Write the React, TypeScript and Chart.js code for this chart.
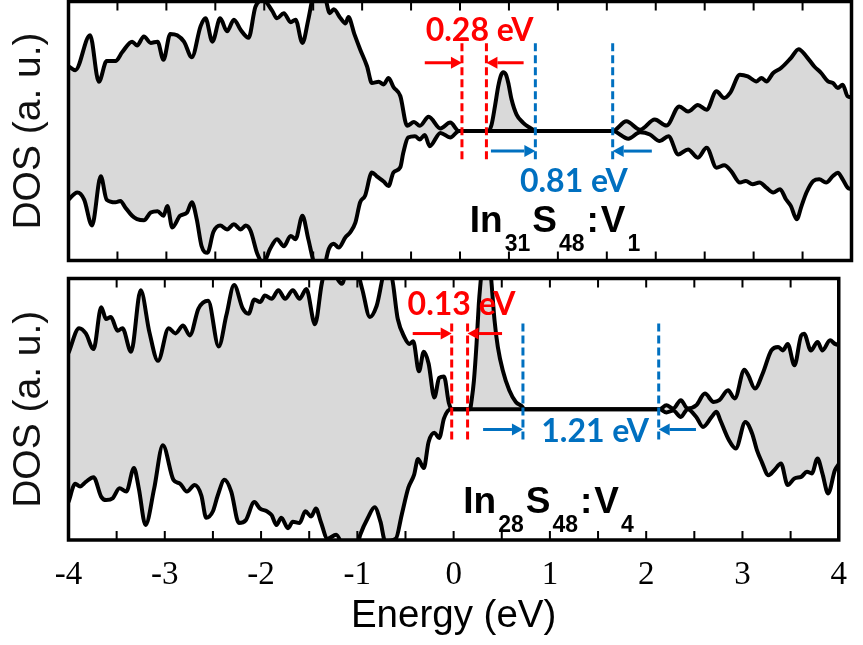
import React, { useEffect, useRef } from 'react';
import { Chart, registerables } from 'chart.js';

Chart.register(...registerables);

// ---------- axis ticks ----------
const xMajorTicks = [-4, -3, -2, -1, 0, 1, 2, 3, 4];
const xMajorTickLabels = ['-4', '-3', '-2', '-1', '0', '1', '2', '3', '4'];
const xMinorTicks = [-3.5, -3, -2.5, -2, -1.5, -1, -0.5, 0, 0.5, 1, 1.5, 2, 2.5, 3, 3.5];

// ---------- In31S48:V1 (top panel) ----------
const topUpE = [-4.0, -3.93, -3.78, -3.69, -3.61, -3.52, -3.45, -3.35, -3.3, -3.23, -3.16, -3.09, -3.03, -2.96, -2.89, -2.82, -2.74, -2.65, -2.6, -2.53, -2.45, -2.38, -2.31, -2.24, -2.16, -2.09, -2.01, -1.92, -1.87, -1.8, -1.73, -1.68, -1.61, -1.55, -1.5, -1.45, -1.38, -1.33, -1.29, -1.22, -1.17, -1.14, -1.08, -1.02, -0.95, -0.9, -0.83, -0.78, -0.73, -0.68, -0.61, -0.54, -0.47, -0.41, -0.32, -0.2, -0.1, -0.01, 0.15, 0.29, 0.323, 0.357, 0.391, 0.418, 0.442, 0.469, 0.493, 0.527, 0.578, 0.646, 0.714, 0.765, 0.78, 1.2, 1.56, 1.7, 1.84, 1.99, 2.11, 2.24, 2.33, 2.43, 2.52, 2.62, 2.7, 2.76, 2.86, 2.94, 3.03, 3.08, 3.13, 3.2, 3.28, 3.38, 3.46, 3.54, 3.62, 3.69, 3.76, 3.81, 3.86, 3.91, 3.96, 4.0];
const topUpV = [5.0, 4.7, 7.4, 3.8, 5.4, 5.4, 6.1, 6.9, 6.6, 7.3, 6.8, 6.9, 5.5, 7.5, 7.4, 6.9, 5.7, 8.1, 8.7, 6.9, 8.7, 7.7, 8.6, 7.8, 7.2, 9.6, 10.1, 9.3, 8.7, 9.1, 8.4, 8.6, 6.8, 8.6, 10.5, 11.5, 10.4, 9.1, 9.4, 8.7, 8.3, 8.8, 7.5, 6.3, 5.0, 3.7, 3.8, 3.6, 4.1, 3.4, 2.7, 0.4, 0.7, 0.4, 1.1, 0.2, 0.65, 0, 0, 0, 0.5, 1.9, 3.46, 4.29, 4.54, 4.36, 3.72, 2.43, 1.27, 0.63, 0.25, 0.04, 0, 0, 0, 0.75, 0.1, 0.88, 0.42, 1.9, 1.5, 2.0, 1.65, 3.06, 2.55, 2.94, 4.35, 4.22, 3.83, 4.09, 3.83, 4.48, 4.86, 5.63, 6.32, 5.75, 4.98, 4.48, 3.83, 3.71, 3.32, 3.58, 2.68, 2.6];
const topDnE = [-4.0, -3.91, -3.84, -3.76, -3.67, -3.61, -3.52, -3.47, -3.42, -3.35, -3.3, -3.23, -3.16, -3.09, -3.03, -2.99, -2.94, -2.86, -2.79, -2.74, -2.69, -2.64, -2.58, -2.52, -2.45, -2.38, -2.31, -2.24, -2.19, -2.14, -2.07, -2.01, -1.94, -1.87, -1.8, -1.73, -1.68, -1.61, -1.55, -1.48, -1.41, -1.34, -1.29, -1.24, -1.17, -1.12, -1.07, -1.02, -0.97, -0.9, -0.85, -0.78, -0.73, -0.68, -0.61, -0.58, -0.53, -0.46, -0.41, -0.36, -0.31, -0.2, -0.1, -0.01, 0.4, 0.8, 1.2, 1.56, 1.72, 1.84, 1.94, 2.04, 2.13, 2.23, 2.33, 2.43, 2.52, 2.62, 2.7, 2.77, 2.86, 2.92, 2.99, 3.06, 3.13, 3.2, 3.27, 3.33, 3.38, 3.44, 3.49, 3.54, 3.61, 3.67, 3.74, 3.81, 3.86, 3.91, 3.96, 4.0];
const topDnV = [-5.3, -4.75, -5.3, -7.3, -3.5, -5.3, -5.5, -5.4, -5.9, -6.55, -6.8, -6.9, -6.3, -6.2, -6.55, -5.8, -7.45, -6.55, -6.3, -5.5, -6.8, -8.9, -9.4, -7.8, -7.3, -7.6, -7.2, -7.6, -7.3, -7.7, -9.5, -10.2, -9.1, -8.35, -8.9, -8.1, -8.35, -6.55, -8.35, -10.5, -11.0, -9.1, -8.7, -9.0, -8.2, -7.8, -7.1, -5.5, -5.0, -3.2, -3.5, -3.9, -4.25, -3.2, -2.8, -1.7, -0.5, -0.4, -0.65, -0.3, -1.17, -0.15, -0.5, 0, 0, 0, 0, 0, -0.6, -0.1, -0.27, -0.78, -0.4, -1.81, -1.42, -2.06, -1.29, -2.83, -2.65, -3.09, -3.98, -3.86, -4.12, -3.98, -4.37, -4.75, -4.5, -5.27, -5.78, -6.81, -5.78, -4.75, -3.86, -3.73, -3.98, -3.48, -3.22, -3.73, -4.37, -4.5];

// ---------- In28S48:V4 (bottom panel) ----------
const botUpE = [-4.0, -3.89, -3.82, -3.74, -3.66, -3.61, -3.56, -3.49, -3.44, -3.35, -3.25, -3.16, -3.07, -2.96, -2.89, -2.81, -2.74, -2.65, -2.55, -2.44, -2.36, -2.28, -2.19, -2.13, -2.07, -2.01, -1.96, -1.89, -1.82, -1.75, -1.67, -1.6, -1.53, -1.44, -1.37, -1.32, -1.25, -1.16, -1.1, -1.02, -0.95, -0.87, -0.8, -0.71, -0.65, -0.58, -0.51, -0.46, -0.42, -0.36, -0.31, -0.26, -0.2, -0.15, -0.1, -0.05, -0.02, 0.1, 0.17, 0.187, 0.211, 0.238, 0.262, 0.282, 0.31, 0.335, 0.36, 0.391, 0.425, 0.459, 0.51, 0.578, 0.646, 0.714, 0.73, 1.2, 1.7, 2.14, 2.21, 2.28, 2.36, 2.43, 2.52, 2.61, 2.7, 2.76, 2.85, 2.92, 3.02, 3.06, 3.13, 3.21, 3.3, 3.37, 3.42, 3.47, 3.54, 3.61, 3.64, 3.71, 3.78, 3.83, 3.91, 3.96, 4.0];
const botUpV = [4.3, 6.2, 5.8, 4.6, 7.8, 6.9, 7.05, 6.0, 6.2, 4.4, 9.1, 5.9, 3.7, 6.2, 5.8, 6.4, 5.65, 7.7, 8.3, 4.8, 7.2, 9.5, 7.7, 7.3, 8.4, 8.2, 8.7, 8.45, 9.1, 8.45, 9.1, 8.45, 9.2, 6.5, 9.6, 11.0, 10.5, 9.6, 10.8, 10.8, 9.2, 7.05, 7.9, 10.5, 10.3, 6.9, 5.5, 5.0, 5.2, 2.9, 4.4, 3.5, 0.9, 2.4, 2.5, 0.5, 0, 0, 0, 0.7, 2.2, 5.0, 8.1, 9.9, 12.5, 13.5, 12.5, 9.9, 6.8, 4.77, 2.98, 1.45, 0.56, 0.18, 0, 0, 0, 0, 0.3, 0.05, 0.69, 0.05, 0.3, 1.2, 0.56, 0.69, 1.45, 0.82, 3.03, 2.6, 1.58, 2.73, 4.5, 4.76, 4.5, 5.0, 3.36, 5.65, 5.78, 4.5, 5.14, 4.5, 5.27, 5.0, 4.9];
const botDnE = [-4.0, -3.93, -3.88, -3.82, -3.74, -3.66, -3.61, -3.54, -3.47, -3.4, -3.32, -3.27, -3.2, -3.11, -3.02, -2.91, -2.84, -2.77, -2.69, -2.62, -2.57, -2.5, -2.45, -2.38, -2.31, -2.23, -2.16, -2.07, -2.01, -1.94, -1.89, -1.84, -1.79, -1.72, -1.67, -1.6, -1.54, -1.48, -1.43, -1.38, -1.31, -1.22, -1.12, -1.02, -0.97, -0.89, -0.82, -0.76, -0.71, -0.6, -0.54, -0.47, -0.41, -0.37, -0.31, -0.26, -0.2, -0.15, -0.1, -0.03, 0.5, 1.2, 2.14, 2.21, 2.28, 2.36, 2.43, 2.52, 2.59, 2.68, 2.73, 2.77, 2.86, 2.93, 3.03, 3.1, 3.15, 3.2, 3.27, 3.33, 3.4, 3.47, 3.54, 3.61, 3.67, 3.72, 3.78, 3.83, 3.89, 3.96, 4.0];
const botDnV = [-7.1, -5.7, -5.9, -5.55, -5.2, -6.7, -6.95, -6.8, -6.05, -6.3, -4.5, -6.05, -8.85, -6.05, -2.75, -5.4, -5.7, -6.3, -5.8, -6.6, -8.3, -7.8, -6.6, -5.4, -6.3, -8.7, -8.5, -7.1, -7.6, -7.8, -8.1, -8.85, -8.3, -9.1, -8.6, -8.7, -7.8, -8.2, -7.6, -8.6, -9.9, -9.6, -10.8, -10.8, -9.6, -8.3, -7.5, -8.6, -10.1, -9.9, -8.1, -6.0, -5.0, -3.8, -4.5, -2.5, -1.8, -2.2, -0.7, 0, 0, 0, 0, -0.25, -0.1, -0.59, 0, -0.59, -1.35, -0.59, -0.2, -0.84, -2.37, -3.0, -0.97, -1.85, -3.13, -4.02, -5.04, -4.66, -4.15, -5.8, -5.29, -5.17, -4.78, -4.91, -3.76, -4.91, -6.44, -4.66, -4.2];

// ---------- annotations (energies in eV) ----------
const topGapLines = [0.02, 0.27];
const topBandLines = [0.77, 1.56];
const botGapLines = [-0.02, 0.145];
const botBandLines = [0.72, 2.13];
const topGapLabel = '0.28 eV';
const topBandLabel = '0.81 eV';
const botGapLabel = '0.13 eV';
const botBandLabel = '1.21 eV';
const topFormula = [['In', 0], ['31', 1], ['S', 0], ['48', 1], [':', 0], ['V', 0], ['1', 1]];
const botFormula = [['In', 0], ['28', 1], ['S', 0], ['48', 1], [':', 0], ['V', 0], ['4', 1]];

const RED = '#ff0000';
const BLUE = '#0070c0';
const FILL = '#d9d9d9';

const pts = (e: number[], v: number[]) => e.map((x, i) => ({ x, y: v[i] }));

function arrow(ctx: CanvasRenderingContext2D, x1: number, x2: number, y: number, color: string) {
  const dir = Math.sign(x2 - x1);
  const head = 11;
  ctx.strokeStyle = color;
  ctx.fillStyle = color;
  ctx.lineWidth = 3;
  ctx.setLineDash([]);
  ctx.beginPath();
  ctx.moveTo(x1, y);
  ctx.lineTo(x2 - dir * head, y);
  ctx.stroke();
  ctx.beginPath();
  ctx.moveTo(x2, y);
  ctx.lineTo(x2 - dir * head, y - 6);
  ctx.lineTo(x2 - dir * head, y + 6);
  ctx.closePath();
  ctx.fill();
}

const decorPlugin = {
  id: 'decor',
  afterDatasetsDraw(chart: any, _args: any, o: any) {
    const { ctx, chartArea: a, scales } = chart;
    const xs = scales.x;
    const ys = scales.y;
    const X = (v: number) => xs.getPixelForValue(v);
    const Y = (v: number) => ys.getPixelForValue(v);
    ctx.save();
    // frame
    ctx.strokeStyle = '#000';
    ctx.lineWidth = 3.5;
    ctx.strokeRect(a.left, a.top, a.right - a.left, a.bottom - a.top);
    // inward ticks
    ctx.lineWidth = 2;
    ctx.beginPath();
    for (const t of xMinorTicks) {
      const px = X(t);
      ctx.moveTo(px, a.top);
      ctx.lineTo(px, a.top + 9);
      ctx.moveTo(px, a.bottom);
      ctx.lineTo(px, a.bottom - 9);
    }
    ctx.stroke();
    // dashed marker lines
    const dashed = (e: number, color: string) => {
      ctx.strokeStyle = color;
      ctx.lineWidth = 3;
      ctx.setLineDash([8, 4]);
      ctx.beginPath();
      ctx.moveTo(X(e), Y(o.lineTop));
      ctx.lineTo(X(e), Y(o.lineBot));
      ctx.stroke();
    };
    o.gapLines.forEach((e: number) => dashed(e, RED));
    o.bandLines.forEach((e: number) => dashed(e, BLUE));
    ctx.setLineDash([]);
    // arrows
    arrow(ctx, X(o.gapArrowL), X(o.gapLines[0]), Y(o.gapArrowY), RED);
    arrow(ctx, X(o.gapArrowR), X(o.gapLines[1]), Y(o.gapArrowY), RED);
    arrow(ctx, X(o.bandArrowL), X(o.bandLines[0]), Y(o.bandArrowY), BLUE);
    arrow(ctx, X(o.bandArrowR), X(o.bandLines[1]), Y(o.bandArrowY), BLUE);
    // labels
    ctx.textAlign = 'center';
    ctx.textBaseline = 'middle';
    ctx.font = 'bold 32px Lato, "Liberation Sans", sans-serif';
    ctx.fillStyle = RED;
    ctx.fillText(o.gapLabel, X(o.gapLabelPos[0]), Y(o.gapLabelPos[1]));
    ctx.fillStyle = BLUE;
    ctx.fillText(o.bandLabel, X(o.bandLabelPos[0]), Y(o.bandLabelPos[1]));
    // formula
    ctx.textAlign = 'left';
    ctx.textBaseline = 'alphabetic';
    ctx.fillStyle = '#000';
    let cx = X(o.formulaPos[0]);
    const base = Y(o.formulaPos[1]);
    for (const [txt, sub] of o.formula) {
      ctx.font = sub ? 'bold 23px "Liberation Sans", Arial, sans-serif' : 'bold 37px "Liberation Sans", Arial, sans-serif';
      ctx.fillText(txt, cx, sub ? base + 19 : base);
      cx += ctx.measureText(txt).width + 2;
    }
    ctx.restore();
  },
};

function makeDatasets(upE: number[], upV: number[], dnE: number[], dnV: number[]) {
  const common = {
    borderColor: '#000',
    backgroundColor: FILL,
    borderWidth: 4,
    pointRadius: 0,
    cubicInterpolationMode: 'monotone' as const,
    borderJoinStyle: 'round' as const,
  };
  return [
    { ...common, label: 'up', data: pts(upE, upV), fill: '+1' },
    { ...common, label: 'down', data: pts(dnE, dnV), fill: false },
  ];
}

function baseOptions(showX: boolean, decor: any, padding: any) {
  return {
    responsive: false,
    animation: false as const,
    events: [] as any[],
    layout: { padding },
    plugins: {
      legend: { display: false },
      tooltip: { enabled: false },
      filler: { drawTime: 'beforeDatasetsDraw' },
      decor,
    },
    scales: {
      x: {
        type: 'linear' as const,
        min: -4,
        max: 4,
        display: showX,
        grid: { display: false, drawTicks: false },
        border: { display: false },
        afterBuildTicks: (s: any) => {
          s.ticks = xMajorTicks.map((v) => ({ value: v }));
        },
        ticks: {
          padding: 16,
          color: '#000',
          font: { family: '"Liberation Serif", "Times New Roman", serif', size: 33 },
          callback: (v: number) => xMajorTickLabels[xMajorTicks.indexOf(v)] ?? '',
          maxRotation: 0,
          autoSkip: false,
        },
        title: {
          display: true,
          text: 'Energy (eV)',
          color: '#000',
          font: { family: '"Liberation Sans", Arial, sans-serif', size: 38.5 },
          padding: { top: 0, bottom: 6 },
        },
        afterFit: (s: any) => {
          if (showX) s.height = 105;
        },
      },
      y: {
        min: -10,
        max: 10,
        grid: { display: false, drawTicks: false },
        border: { display: false },
        ticks: { display: false },
        title: {
          display: true,
          text: 'DOS (a. u.)',
          color: '#111',
          font: { family: '"Liberation Sans", Arial, sans-serif', size: 39 },
          padding: { top: 6, bottom: 0 },
        },
        afterFit: (s: any) => {
          s.width = 68.5;
        },
      },
    },
  };
}

export default function App() {
  const topRef = useRef<HTMLCanvasElement>(null);
  const botRef = useRef<HTMLCanvasElement>(null);

  useEffect(() => {
    const topDecor = {
      gapLines: topGapLines,
      bandLines: topBandLines,
      lineTop: 6.77,
      lineBot: -2.24,
      gapArrowL: -0.36,
      gapArrowR: 0.65,
      gapArrowY: 5.27,
      bandArrowL: 0.316,
      bandArrowR: 1.96,
      bandArrowY: -1.55,
      gapLabel: topGapLabel,
      gapLabelPos: [0.2, 7.72],
      bandLabel: topBandLabel,
      bandLabelPos: [1.163, -3.9],
      formula: topFormula,
      formulaPos: [0.1, -7.8],
    };
    const botDecor = {
      gapLines: botGapLines,
      bandLines: botBandLines,
      lineTop: 6.56,
      lineBot: -2.37,
      gapArrowL: -0.425,
      gapArrowR: 0.503,
      gapArrowY: 5.79,
      bandArrowL: 0.306,
      bandArrowR: 2.517,
      bandArrowY: -1.55,
      gapLabel: botGapLabel,
      gapLabelPos: [0.082, 8.03],
      bandLabel: botBandLabel,
      bandLabelPos: [1.47, -1.72],
      formula: botFormula,
      formulaPos: [0.1, -7.95],
    };
    const top = new Chart(topRef.current!, {
      type: 'line',
      data: { datasets: makeDatasets(topUpE, topUpV, topDnE, topDnV) as any },
      options: baseOptions(false, topDecor, { top: 1.5, right: 11.5, bottom: 9.5, left: 0 }) as any,
      plugins: [decorPlugin],
    });
    const bot = new Chart(botRef.current!, {
      type: 'line',
      data: { datasets: makeDatasets(botUpE, botUpV, botDnE, botDnV) as any },
      options: baseOptions(true, botDecor, { top: 8.5, right: 11.5, bottom: 0, left: 0 }) as any,
      plugins: [decorPlugin],
    });
    return () => {
      top.destroy();
      bot.destroy();
    };
  }, []);

  return (
    <div style={{ position: 'absolute', left: 0, top: 0, width: 863, height: 645, background: '#fff' }}>
      <canvas ref={topRef} width={863} height={270} style={{ display: 'block' }} />
      <canvas ref={botRef} width={863} height={375} style={{ display: 'block' }} />
    </div>
  );
}
